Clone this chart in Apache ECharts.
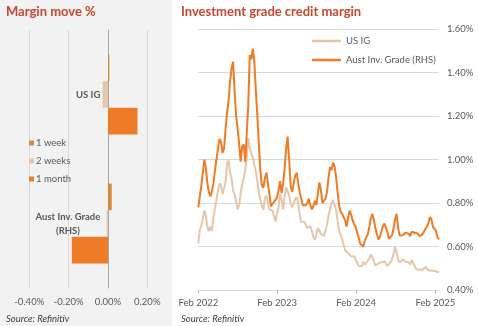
<!DOCTYPE html>
<html><head><meta charset="utf-8">
<script src="https://cdn.jsdelivr.net/npm/echarts@6/dist/echarts.min.js"></script>
<style>html,body{margin:0;padding:0;background:#fff}#c{width:478px;height:326px}</style>
</head><body><div id="c"></div>
<script>
// ---- Left panel: margin move % ----
const barCategories = ['US IG', 'Aust Inv. Grade (RHS)'];
const week1 = [0.007, 0.019];
const weeks2 = [-0.027, -0.007];
const month1 = [0.150, -0.184];
const barTicks = [-0.4, -0.2, 0, 0.2];

// ---- Right panel: investment grade credit margin (weekly, from 1 Feb 2022) ----
const startDate = '2022-02-01';
const austIG = [
0.78,0.83,0.88,0.94,1.00,0.96,0.89,0.85,0.83,0.855,
0.89,0.95,1.00,1.05,1.095,1.08,1.03,1.05,1.14,1.215,
1.27,1.36,1.42,1.45,1.31,1.20,1.14,1.07,0.99,1.06,
1.07,0.99,1.12,1.25,1.48,1.46,1.51,1.45,1.32,1.20,
1.07,0.95,0.88,0.87,0.914,0.94,0.89,0.84,0.785,0.78,
0.805,0.81,0.825,0.86,0.90,0.845,0.89,0.955,1.05,1.105,
1.00,0.88,0.85,0.89,0.925,0.94,0.891,0.85,0.82,0.79,
0.79,0.79,0.80,0.82,0.79,0.77,0.785,0.81,0.79,0.845,
0.895,0.86,0.80,0.795,0.82,0.85,0.915,0.965,0.952,0.985,
0.97,0.92,0.85,0.79,0.76,0.75,0.735,0.72,0.691,0.735,
0.765,0.745,0.72,0.70,0.69,0.66,0.64,0.613,0.607,0.599,
0.628,0.642,0.657,0.69,0.73,0.75,0.72,0.685,0.655,0.632,
0.645,0.67,0.695,0.705,0.70,0.665,0.635,0.63,0.652,0.685,
0.724,0.75,0.685,0.65,0.655,0.652,0.652,0.664,0.666,0.658,
0.647,0.668,0.676,0.663,0.67,0.66,0.648,0.652,0.655,0.652,
0.68,0.692,0.708,0.735,0.725,0.69,0.688,0.672,0.642,0.632
];
const usIG = [
0.615,0.677,0.695,0.73,0.765,0.742,0.69,0.67,0.692,0.672,
0.735,0.773,0.815,0.858,0.89,0.88,0.84,0.835,0.895,0.983,
0.995,0.94,0.914,0.855,0.84,0.805,0.77,0.79,0.845,0.888,
0.912,0.955,1.01,1.098,1.055,1.028,1.01,0.975,0.945,0.90,
0.85,0.815,0.788,0.768,0.822,0.835,0.80,0.77,0.768,0.765,
0.74,0.715,0.75,0.782,0.843,0.814,0.77,0.83,0.872,0.87,
0.835,0.80,0.78,0.782,0.817,0.827,0.799,0.745,0.712,0.717,
0.715,0.70,0.685,0.684,0.694,0.672,0.644,0.631,0.655,0.685,
0.68,0.658,0.652,0.648,0.645,0.70,0.742,0.77,0.797,0.812,
0.803,0.77,0.72,0.676,0.654,0.636,0.608,0.583,0.576,0.569,
0.562,0.555,0.555,0.554,0.545,0.525,0.512,0.52,0.508,0.53,
0.516,0.521,0.535,0.548,0.565,0.56,0.53,0.513,0.51,0.522,
0.515,0.528,0.537,0.532,0.521,0.51,0.515,0.528,0.543,0.568,
0.597,0.571,0.541,0.526,0.528,0.54,0.535,0.53,0.536,0.527,
0.517,0.538,0.53,0.51,0.495,0.487,0.494,0.496,0.492,0.498,
0.506,0.499,0.491,0.485,0.49,0.492,0.487,0.485,0.484,0.48
];
const tickDates = ['2022-02-01', '2023-02-01', '2024-02-01', '2025-02-01'];
const tickLabels = ['Feb 2022', 'Feb 2023', 'Feb 2024', 'Feb 2025'];
const yTicks = [0.4, 0.6, 0.8, 1.0, 1.2, 1.4, 1.6];

// weekly observation dates
const DAY = 86400000;
const t0 = Date.parse(startDate + 'T00:00:00Z');
const dates = austIG.map((_, i) => t0 + i * 7 * DAY);
const tickTs = tickDates.map(d => Date.parse(d + 'T00:00:00Z'));

const C_W1 = '#D08C3C', C_W2 = '#E4C7AA', C_M1 = '#EE7B25';
const C_US = '#E4C7AA', C_AU = '#EE7B25';
const TXT = '#595959', GRID = '#d9d9d9', RED = '#C9472F';
const FONT = 'Lato';

const chart = echarts.init(document.getElementById('c'), null, {renderer: 'canvas'});
chart.setOption({
  backgroundColor: '#ffffff',
  animation: false,
  textStyle: {fontFamily: FONT},
  graphic: [
    {type: 'rect', z: -10, silent: true, shape: {x: 0, y: 0, width: 172, height: 326}, style: {fill: '#f2f2f2'}},
    {type: 'text', left: 6, top: 5, style: {text: 'Margin move %', fill: RED, font: 'bold 13px Lato'}},
    {type: 'text', left: 181, top: 5, style: {text: 'Investment grade credit margin', fill: RED, font: 'bold 13px Lato'}},
    {type: 'text', left: 6, top: 314, style: {text: 'Source: Refinitiv', fill: '#404040', font: 'italic 9.5px Lato'}},
    {type: 'text', left: 181, top: 314, style: {text: 'Source: Refinitiv', fill: '#404040', font: 'italic 9.5px Lato'}}
  ],
  legend: [
    {
      data: ['1 week', '2 weeks', '1 month'],
      orient: 'vertical', left: 29, top: 138, padding: 0, itemGap: 8,
      icon: 'rect', itemWidth: 5, itemHeight: 5,
      textStyle: {color: TXT, fontSize: 9.5, fontFamily: FONT, padding: [0, 0, 0, -3]}
    },
    {
      data: ['US IG', 'Aust Inv. Grade (RHS)'],
      orient: 'vertical', left: 312, top: 36, padding: 0, itemGap: 9,
      icon: 'rect', itemWidth: 29, itemHeight: 2.5,
      textStyle: {color: TXT, fontSize: 9.5, fontFamily: FONT}
    }
  ],
  grid: [
    {left: 29.3, right: 478 - 147.3, top: 30, bottom: 326 - 288, outerBoundsMode: 'none', containLabel: false},
    {left: 198.3, right: 478 - 439, top: 29, bottom: 326 - 290, outerBoundsMode: 'none', containLabel: false}
  ],
  xAxis: [
    {
      gridIndex: 0, type: 'value', min: barTicks[0], max: barTicks[barTicks.length - 1], interval: 0.2,
      axisLine: {show: false}, axisTick: {show: false},
      splitLine: {show: true, lineStyle: {color: GRID, width: 1}},
      axisLabel: {color: TXT, fontSize: 9.5, margin: 9, formatter: v => v.toFixed(2) + '%'}
    },
    {
      gridIndex: 1, type: 'value', min: dates[0], max: dates[dates.length - 1], scale: true,
      axisLine: {show: true, onZero: false, lineStyle: {color: GRID}},
      axisTick: {show: true, length: 4, lineStyle: {color: '#bfbfbf'}, customValues: tickTs},
      splitLine: {show: false},
      axisLabel: {color: TXT, fontSize: 9.5, margin: 8, customValues: tickTs, hideOverlap: false,
        showMinLabel: true, showMaxLabel: true,
        formatter: v => { const i = tickTs.indexOf(v); return i >= 0 ? tickLabels[i] : ''; }}
    }
  ],
  yAxis: [
    {
      gridIndex: 0, type: 'category', data: barCategories, inverse: true,
      axisLine: {show: true, onZero: true, lineStyle: {color: '#a6a6a6', width: 1}},
      axisTick: {show: false},
      axisLabel: {
        margin: -71, color: TXT, fontSize: 9.5, fontWeight: 'bold', align: 'right',
        formatter: v => v === 'Aust Inv. Grade (RHS)' ? '{a|Aust Inv. Grade}\n{a|(RHS)}' : '{a|' + v + '}',
        rich: {a: {align: 'center', color: TXT, fontSize: 9.5, fontWeight: 'bold', fontFamily: FONT, lineHeight: 14}}
      }
    },
    {
      gridIndex: 1, type: 'value', position: 'right', min: yTicks[0], max: yTicks[yTicks.length - 1], interval: 0.2,
      axisLine: {show: false}, axisTick: {show: false},
      splitLine: {show: true, lineStyle: {color: GRID, width: 1}},
      axisLabel: {color: TXT, fontSize: 9.5, margin: 8, formatter: v => v.toFixed(2) + '%'}
    }
  ],
  series: [
    {name: '1 week', type: 'bar', xAxisIndex: 0, yAxisIndex: 0, data: week1, itemStyle: {color: C_W1},
     barGap: '0%', barCategoryGap: '38%'},
    {name: '2 weeks', type: 'bar', xAxisIndex: 0, yAxisIndex: 0, data: weeks2, itemStyle: {color: C_W2},
     barGap: '0%', barCategoryGap: '38%'},
    {name: '1 month', type: 'bar', xAxisIndex: 0, yAxisIndex: 0, data: month1, itemStyle: {color: C_M1},
     barGap: '0%', barCategoryGap: '38%'},
    {name: 'US IG', type: 'line', xAxisIndex: 1, yAxisIndex: 1, showSymbol: false, symbol: 'none',
     data: dates.map((d, i) => [d, usIG[i]]), lineStyle: {color: C_US, width: 2}, itemStyle: {color: C_US}},
    {name: 'Aust Inv. Grade (RHS)', type: 'line', xAxisIndex: 1, yAxisIndex: 1, showSymbol: false, symbol: 'none',
     data: dates.map((d, i) => [d, austIG[i]]), lineStyle: {color: C_AU, width: 2}, itemStyle: {color: C_AU}}
  ]
});
</script></body></html>
